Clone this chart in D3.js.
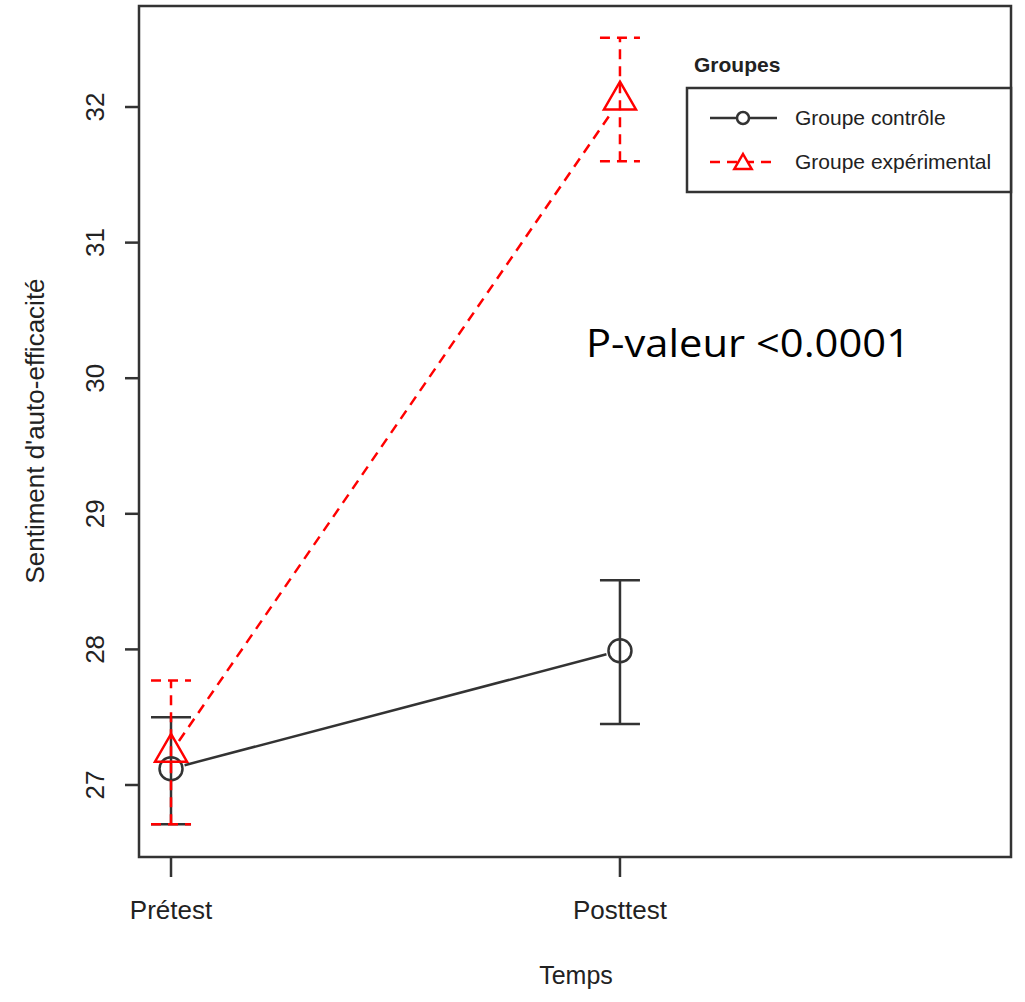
<!DOCTYPE html>
<html>
<head>
<meta charset="utf-8">
<script src="https://cdn.jsdelivr.net/npm/d3@7"></script>
<style>
  body { margin: 0; background: #fff; }
  text { font-family: "Liberation Sans", Arial, sans-serif; fill: #222; }
</style>
</head>
<body>
<div class="chart"></div>
<script>
// data
var temps = ["Prétest", "Posttest"];
var groupes = ["Groupe contrôle", "Groupe expérimental"];
var moyControle = [27.12, 27.99];
var basControle = [26.71, 27.45];
var hautControle = [27.50, 28.51];
var moyExperimental = [27.24, 32.05];
var basExperimental = [26.71, 31.60];
var hautExperimental = [27.77, 32.51];
var yTicks = [27, 28, 29, 30, 31, 32];

var width = 1025, height = 1002;
var plotLeft = 139, plotRight = 1011, plotTop = 6, plotBottom = 857;

var x = d3.scaleLinear().domain([-0.0713, 1.871]).range([plotLeft, plotRight]);
var y = d3.scaleLinear().domain([26.469, 32.745]).range([plotBottom, plotTop]);

var svg = d3.select(".chart").append("svg")
    .attr("width", width)
    .attr("height", height);

var series = [
  { name: groupes[0], moy: moyControle, bas: basControle, haut: hautControle, color: "#333", dash: null, shape: "circle" },
  { name: groupes[1], moy: moyExperimental, bas: basExperimental, haut: hautExperimental, color: "#ff0000", dash: "10,7", shape: "triangle" }
];

// R pch 2 triangle
function triangle(cx, cy, r) {
  var xc = r * 0.866, yc = r / 2;
  return "M" + cx + "," + (cy - r) + "L" + (cx + xc) + "," + (cy + yc) + "L" + (cx - xc) + "," + (cy + yc) + "Z";
}

function drawMarker(g, s, cx, cy) {
  if (s.shape == "circle") {
    g.append("circle").attr("cx", cx).attr("cy", cy).attr("r", 11.5)
      .attr("fill", "none").attr("stroke", s.color).attr("stroke-width", 2.5);
  } else {
    g.append("path").attr("d", triangle(cx, cy, 18.5))
      .attr("fill", "none").attr("stroke", s.color).attr("stroke-width", 2.5);
  }
}

var gap = 14;
series.forEach(function(s) {
  var g = svg.append("g");
  // error bars
  s.moy.forEach(function(m, i) {
    var cx = x(i);
    g.append("line").attr("x1", cx).attr("x2", cx).attr("y1", y(s.bas[i])).attr("y2", y(s.haut[i]))
      .attr("stroke", s.color).attr("stroke-width", 2.5).attr("stroke-dasharray", s.dash);
    [s.bas[i], s.haut[i]].forEach(function(v) {
      g.append("line").attr("x1", cx - 20).attr("x2", cx + 20).attr("y1", y(v)).attr("y2", y(v))
        .attr("stroke", s.color).attr("stroke-width", 2.5).attr("stroke-dasharray", s.dash);
    });
  });
  // connecting line with gaps around the points (type = "b")
  for (var i = 0; i < s.moy.length - 1; i++) {
    var x1 = x(i), y1 = y(s.moy[i]), x2 = x(i + 1), y2 = y(s.moy[i + 1]);
    var len = Math.sqrt((x2 - x1) * (x2 - x1) + (y2 - y1) * (y2 - y1));
    var ux = (x2 - x1) / len, uy = (y2 - y1) / len;
    g.append("line")
      .attr("x1", x1 + ux * gap).attr("y1", y1 + uy * gap)
      .attr("x2", x2 - ux * gap).attr("y2", y2 - uy * gap)
      .attr("stroke", s.color).attr("stroke-width", 2.5).attr("stroke-dasharray", s.dash);
  }
  s.moy.forEach(function(m, i) { drawMarker(g, s, x(i), y(m)); });
});

// frame
svg.append("rect").attr("x", plotLeft).attr("y", plotTop)
  .attr("width", plotRight - plotLeft).attr("height", plotBottom - plotTop)
  .attr("fill", "none").attr("stroke", "#333").attr("stroke-width", 2.5);

// y axis
var yAxis = svg.append("g");
yTicks.forEach(function(t) {
  yAxis.append("line").attr("x1", plotLeft - 14).attr("x2", plotLeft).attr("y1", y(t)).attr("y2", y(t))
    .attr("stroke", "#333").attr("stroke-width", 2.5);
  yAxis.append("text")
    .attr("transform", "translate(" + 104 + "," + y(t) + ") rotate(-90)")
    .attr("text-anchor", "middle")
    .style("font-size", "26px")
    .text(t);
});

// x axis
temps.forEach(function(t, i) {
  svg.append("line").attr("x1", x(i)).attr("x2", x(i)).attr("y1", plotBottom).attr("y2", plotBottom + 20)
    .attr("stroke", "#333").attr("stroke-width", 2.5);
  svg.append("text").attr("x", x(i)).attr("y", 919).attr("text-anchor", "middle")
    .style("font-size", "26px").text(t);
});

svg.append("text").attr("x", 576).attr("y", 984).attr("text-anchor", "middle")
  .style("font-size", "25px").text("Temps");

svg.append("text")
  .attr("transform", "translate(" + 44 + "," + 431 + ") rotate(-90)")
  .attr("text-anchor", "middle")
  .style("font-size", "26px")
  .text("Sentiment d'auto-efficacité");

// legend
var leg = svg.append("g");
leg.append("text").attr("x", 694).attr("y", 72).style("font-size", "21px").style("font-weight", "bold")
  .text("Groupes");
leg.append("rect").attr("x", 687).attr("y", 88).attr("width", plotRight - 687).attr("height", 104)
  .attr("fill", "#fff").attr("stroke", "#333").attr("stroke-width", 2.5);
series.forEach(function(s, i) {
  var ly = 118 + i * 44;
  leg.append("line").attr("x1", 710).attr("x2", 777).attr("y1", ly).attr("y2", ly)
    .attr("stroke", s.color).attr("stroke-width", 2.5).attr("stroke-dasharray", s.dash);
  if (s.shape == "circle") {
    leg.append("circle").attr("cx", 743).attr("cy", ly).attr("r", 6)
      .attr("fill", "#fff").attr("stroke", s.color).attr("stroke-width", 2.5);
  } else {
    leg.append("path").attr("d", triangle(743, ly + 2, 10))
      .attr("fill", "#fff").attr("stroke", s.color).attr("stroke-width", 2.5);
  }
  leg.append("text").attr("x", 795).attr("y", ly + 7).style("font-size", "21px").text(s.name);
});

// annotation
svg.append("text").attr("x", 586).attr("y", 357)
  .style("font-family", "'Open Sans', 'Noto Sans', sans-serif")
  .style("font-size", "39px").style("fill", "#000")
  .attr("textLength", 324).attr("lengthAdjust", "spacingAndGlyphs")
  .text("P-valeur <0.0001");
</script>
</body>
</html>
